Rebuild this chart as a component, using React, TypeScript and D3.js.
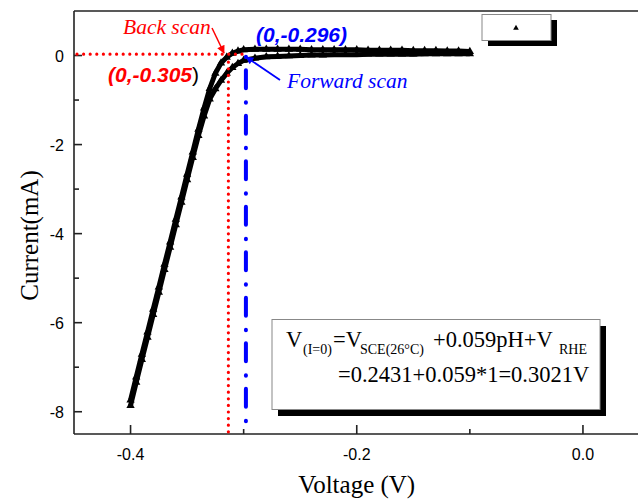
import React from 'react';
import * as d3 from 'd3';

// scan potentials (V) and currents (mA)
const voltage = [
  -0.4, -0.395, -0.39, -0.385, -0.38, -0.375, -0.37, -0.365, -0.36, -0.355, -0.35,
  -0.345, -0.34, -0.335, -0.33, -0.325, -0.32, -0.315, -0.31, -0.305, -0.3,
  -0.29, -0.28, -0.27, -0.26, -0.25, -0.24, -0.23, -0.22, -0.21, -0.2,
  -0.19, -0.18, -0.17, -0.16, -0.15, -0.14, -0.13, -0.12, -0.11, -0.1,
];
const backScan = [
  -7.74, -7.22, -6.71, -6.21, -5.7, -5.2, -4.69, -4.19, -3.68, -3.18, -2.67,
  -2.17, -1.66, -1.18, -0.74, -0.4, -0.17, -0.04, 0.05, 0.1, 0.13,
  0.14, 0.14, 0.14, 0.14, 0.14, 0.13, 0.13, 0.13, 0.13, 0.13,
  0.12, 0.12, 0.12, 0.12, 0.11, 0.11, 0.11, 0.1, 0.1, 0.09,
];
const forwardScan = [
  -7.86, -7.34, -6.83, -6.33, -5.82, -5.32, -4.81, -4.31, -3.8, -3.3, -2.79,
  -2.29, -1.8, -1.36, -0.98, -0.75, -0.56, -0.4, -0.27, -0.18, -0.11,
  -0.06, -0.03, -0.02, -0.01, 0.0, 0.01, 0.01, 0.02, 0.02, 0.02,
  0.03, 0.03, 0.03, 0.03, 0.03, 0.04, 0.04, 0.04, 0.04, 0.04,
];
const xMajor = [-0.4, -0.2, 0.0];
const xMinor = [-0.3, -0.1];
const yMajor = [0, -2, -4, -6, -8];
const yMinor = [-1, -3, -5, -7];
const backZero = -0.3135;
const forwardZero = -0.298;

const W = 638;
const H = 499;
const x = d3.scaleLinear().domain([-0.45, 0.05]).range([74, 639.5]);
const y = d3.scaleLinear().domain([-8.5, 1]).range([434, 11]);

const sans = '"Liberation Sans", Arial, sans-serif';
const serif = '"Liberation Serif", "Times New Roman", serif';

const tri = d3.symbol().type(d3.symbolTriangle).size(30)();
const line = d3.line<number>().x((d, i) => x(voltage[i])).y((d) => y(d));

function Scan({ values }: { values: number[] }) {
  return (
    <g>
      <path d={line(values) || ''} fill="none" stroke="#000" strokeWidth={5} />
      {values.map((v, i) => (
        <path key={i} d={tri} transform={`translate(${x(voltage[i])},${y(v)})`} fill="#000" />
      ))}
    </g>
  );
}

export default function App() {
  const axis = '#222';
  return (
    <svg width={W} height={H} style={{ position: 'absolute', left: 0, top: 0, background: '#fff' }}>
      <defs>
        <marker id="arrRed" viewBox="0 0 10 10" refX="9" refY="5" markerWidth="9" markerHeight="8" markerUnits="userSpaceOnUse" orient="auto">
          <path d="M0,0 L10,5 L0,10 z" fill="#ff0000" />
        </marker>
        <marker id="arrBlue" viewBox="0 0 10 10" refX="9" refY="5" markerWidth="10" markerHeight="8" markerUnits="userSpaceOnUse" orient="auto">
          <path d="M0,0 L10,5 L0,10 z" fill="#0000ff" />
        </marker>
      </defs>

      {/* frame */}
      <g stroke={axis} strokeWidth={1.6}>
        <line x1={x(-0.45)} x2={x(0.05)} y1={y(1)} y2={y(1)} />
        <line x1={x(-0.45)} x2={x(-0.45)} y1={y(1)} y2={y(-8.5)} />
        <line x1={x(-0.45)} x2={x(0.05)} y1={y(-8.5)} y2={y(-8.5)} />
        {xMajor.map((t) => (
          <line key={t} x1={x(t)} x2={x(t)} y1={y(-8.5)} y2={y(-8.5) - 9} />
        ))}
        {xMinor.map((t) => (
          <line key={t} x1={x(t)} x2={x(t)} y1={y(-8.5)} y2={y(-8.5) - 5} />
        ))}
        {yMajor.map((t) => (
          <line key={t} x1={x(-0.45)} x2={x(-0.45) + 8} y1={y(t)} y2={y(t)} />
        ))}
        {yMinor.map((t) => (
          <line key={t} x1={x(-0.45)} x2={x(-0.45) + 5} y1={y(t)} y2={y(t)} />
        ))}
      </g>
      <g fontFamily={sans} fontSize={16} fill="#000">
        {xMajor.map((t) => (
          <text key={t} x={x(t)} y={460} textAnchor="middle">{d3.format('.1f')(t).replace('−', '-')}</text>
        ))}
        {yMajor.map((t) => (
          <text key={t} x={64} y={y(t) + 6} textAnchor="end">{String(t)}</text>
        ))}
      </g>
      <text x={(x(-0.45) + x(0.05)) / 2} y={493} textAnchor="middle" fontFamily={serif} fontSize={25}>Voltage (V)</text>
      <text transform={`translate(38,${(y(1) + y(-8.5)) / 2 + 13}) rotate(-90)`} textAnchor="middle" fontFamily={serif} fontSize={25}>Current(mA)</text>

      {/* scans */}
      <Scan values={forwardScan} />
      <Scan values={backScan} />

      {/* guide lines */}
      <line x1={x(-0.45) + 3} x2={x(-0.297)} y1={y(0.03)} y2={y(0.03)} stroke="#ff0000" strokeWidth={3.2} strokeDasharray="0 6.6" strokeLinecap="round" />
      <line x1={x(backZero)} x2={x(backZero)} y1={y(-0.15)} y2={y(-8.5)} stroke="#ff0000" strokeWidth={3.2} strokeDasharray="0 6.6" strokeLinecap="round" />
      <line x1={x(forwardZero)} x2={x(forwardZero)} y1={y(-0.03)} y2={y(-8.5)} stroke="#0000ff" strokeWidth={4} strokeDasharray="0.5 13 18 14" strokeLinecap="round" />

      {/* annotations */}
      <text x={123} y={34} fontFamily={serif} fontStyle="italic" fontSize={21.5} fill="#ff0000">Back scan</text>
      <line x1={212} y1={28} x2={224} y2={53} stroke="#ff0000" strokeWidth={1.5} markerEnd="url(#arrRed)" />
      <text x={256} y={42} fontFamily={sans} fontStyle="italic" fontWeight="bold" fontSize={21} fill="#0000ff">(0,-0.296)</text>
      <text x={108} y={82} fontFamily={sans} fontSize={21}>
        <tspan fontStyle="italic" fontWeight="bold" fill="#ff0000">(0,-0.305</tspan>
        <tspan fill="#000">)</tspan>
      </text>
      <text x={287} y={88} fontFamily={serif} fontStyle="italic" fontSize={21.5} fill="#0000ff">Forward scan</text>
      <line x1={280} y1={80} x2={246} y2={57} stroke="#0000ff" strokeWidth={1.8} markerEnd="url(#arrBlue)" />

      {/* legend */}
      <rect x={488} y={20} width={69} height={26} fill="#000" />
      <rect x={482} y={14.5} width={69} height={26} fill="#fff" stroke="#888" strokeWidth={1} />
      <path d={d3.symbol().type(d3.symbolTriangle).size(14)() || ''} transform="translate(516,28)" fill="#000" />

      {/* formula box */}
      <rect x={278} y={326} width={328} height={90} fill="#000" />
      <rect x={272} y={319.5} width={328} height={90} fill="#fff" stroke="#888" strokeWidth={1} />
      <g fontFamily={serif} fill="#000">
        <text x={286} y={347} fontSize={22.5}>V</text>
        <text x={303} y={354} fontSize={14}>(I=0)</text>
        <text x={333} y={347} fontSize={22.5}>=V</text>
        <text x={360} y={354} fontSize={14}>SCE(26°C)</text>
        <text x={433} y={347} fontSize={22.5}>+0.059pH+V</text>
        <text x={559} y={354} fontSize={14}>RHE</text>
        <text x={338} y={382} fontSize={22.5}>=0.2431+0.059*1=0.3021V</text>
      </g>
    </svg>
  );
}
